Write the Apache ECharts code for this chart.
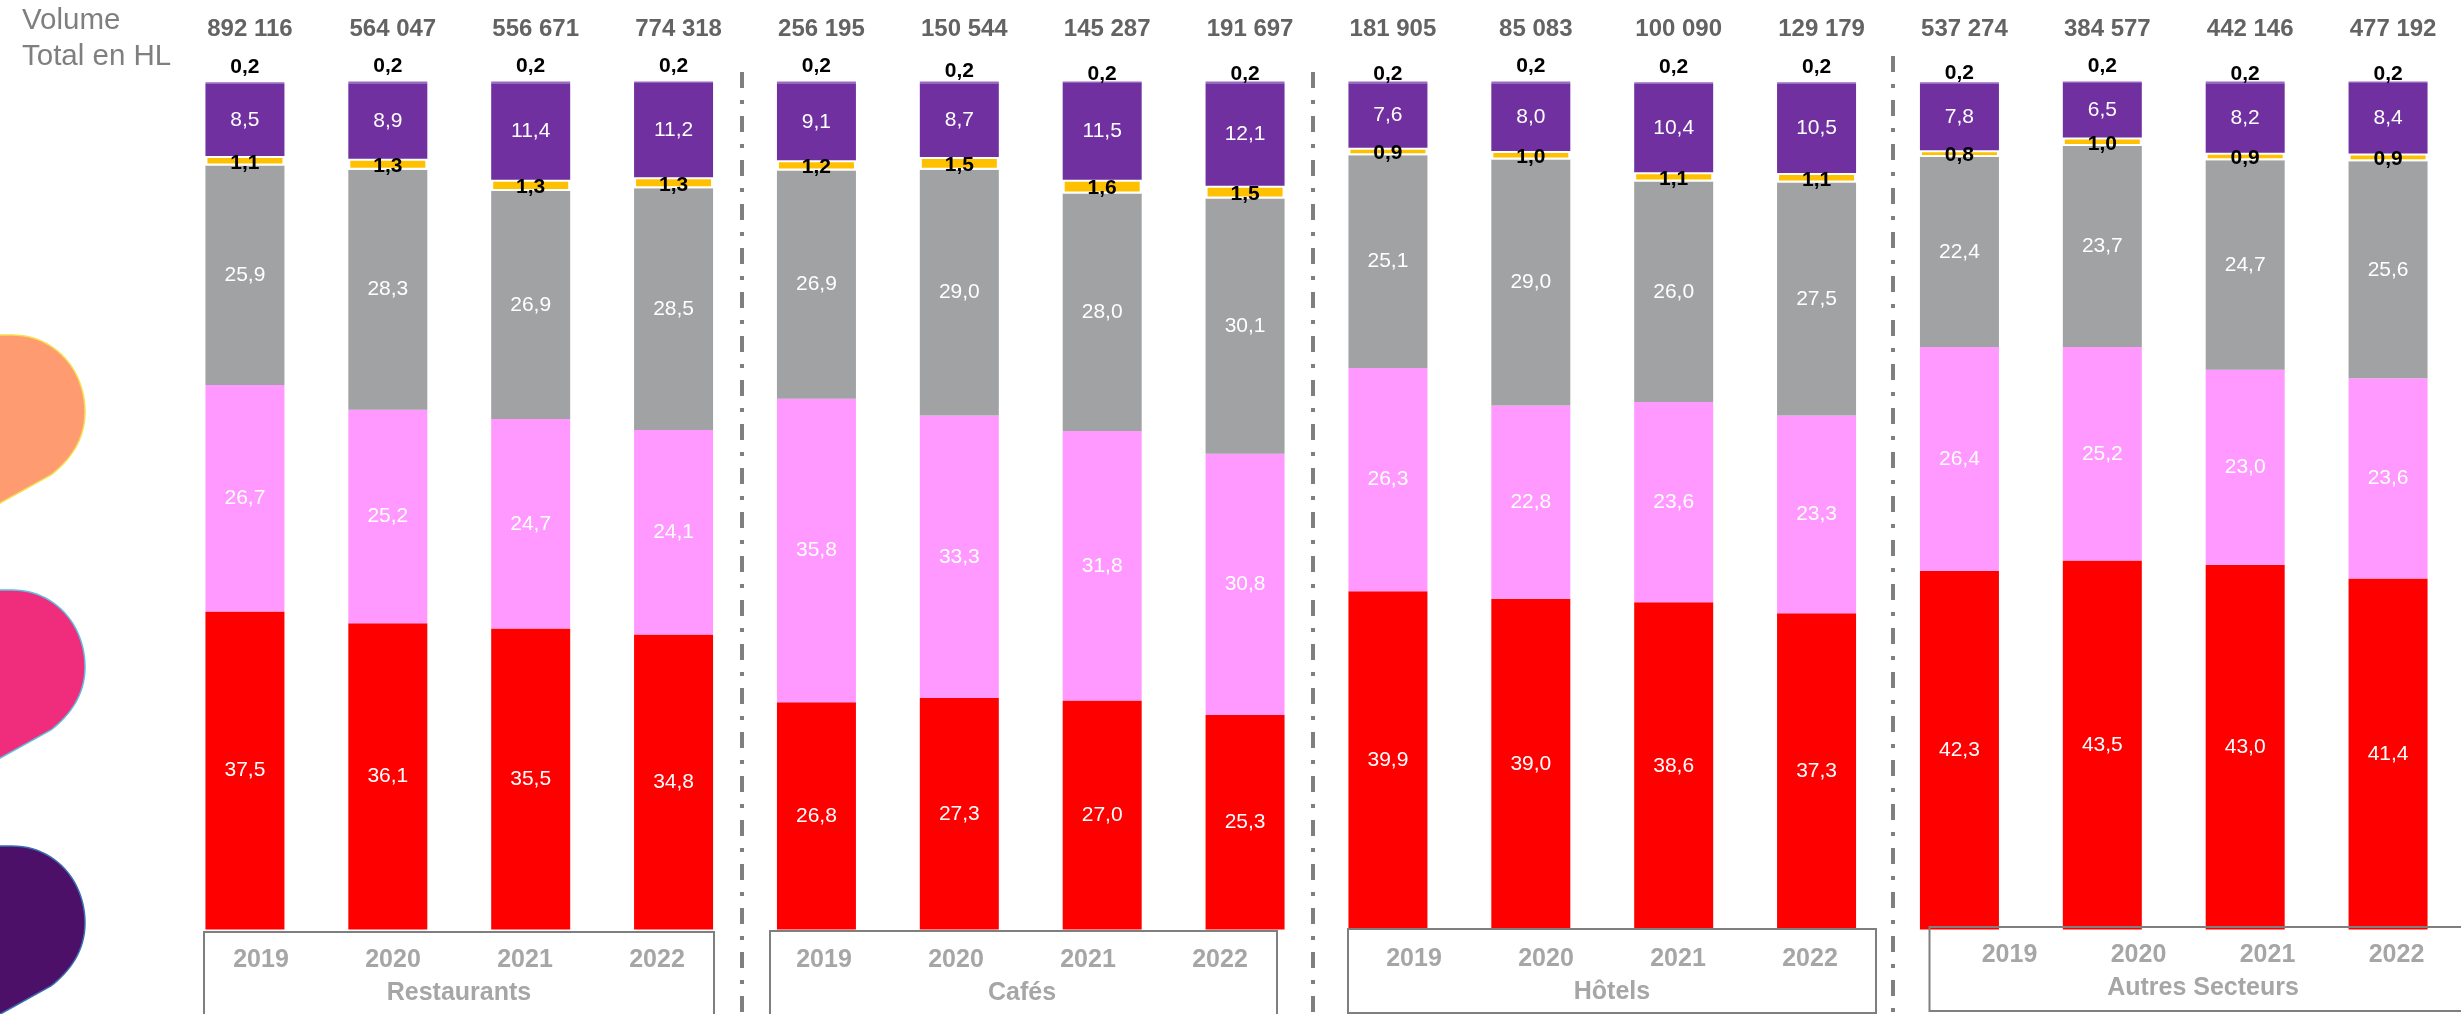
<!DOCTYPE html>
<html><head><meta charset="utf-8">
<style>html,body{margin:0;padding:0;background:#fff;overflow:hidden}#c{width:2461px;height:1014px}</style>
<script src="https://cdn.jsdelivr.net/npm/echarts@6/dist/echarts.min.js"></script></head>
<body><div id="c"></div><script>
const years=['2019','2020','2021','2022'];
const groups=['Restaurants','Cafés','Hôtels','Autres Secteurs'];
const categories=['R 2019','R 2020','R 2021','R 2022','C 2019','C 2020','C 2021','C 2022','H 2019','H 2020','H 2021','H 2022','A 2019','A 2020','A 2021','A 2022'];
const volumes=['892 116','564 047','556 671','774 318','256 195','150 544','145 287','191 697','181 905','85 083','100 090','129 179','537 274','384 577','442 146','477 192'];
const red=[37.5,36.1,35.5,34.8,26.8,27.3,27.0,25.3,39.9,39.0,38.6,37.3,42.3,43.5,43.0,41.4];
const pink=[26.7,25.2,24.7,24.1,35.8,33.3,31.8,30.8,26.3,22.8,23.6,23.3,26.4,25.2,23.0,23.6];
const gray=[25.9,28.3,26.9,28.5,26.9,29.0,28.0,30.1,25.1,29.0,26.0,27.5,22.4,23.7,24.7,25.6];
const yellow=[1.1,1.3,1.3,1.3,1.2,1.5,1.6,1.5,0.9,1.0,1.1,1.1,0.8,1.0,0.9,0.9];
const purple=[8.5,8.9,11.4,11.2,9.1,8.7,11.5,12.1,7.6,8.0,10.4,10.5,7.8,6.5,8.2,8.4];
const topSlice=[0.2,0.2,0.2,0.2,0.2,0.2,0.2,0.2,0.2,0.2,0.2,0.2,0.2,0.2,0.2,0.2];
const topLabelShift=[0,0,0,0,0,5,8,8,8,0,0,0,6,0,8,8];

const FONT='"Liberation Sans", Arial, sans-serif';
const fmt=p=>Number(p.value).toFixed(1).replace('.',',');
const innerLabel={show:true,position:'inside',formatter:fmt,color:'#fff',fontFamily:FONT,fontSize:21};
function bar(name,data,color,extra){
  return Object.assign({name,type:'bar',stack:'s',data,barWidth:79,
    itemStyle:{color},label:innerLabel,emphasis:{disabled:true},silent:true},extra||{});
}
const series=[
  bar('Rouge',red,'#FF0000'),
  bar('Rose',pink,'#FF99FF'),
  bar('Gris',gray,'#A1A2A4'),
  bar('Jaune',yellow,'#FFC000',{
    itemStyle:{color:'#FFC000',borderColor:'#fff',borderWidth:2},
    label:{show:true,position:'inside',offset:[0,2],formatter:fmt,color:'#000',fontFamily:FONT,fontSize:21,fontWeight:'bold'}}),
  bar('Violet',purple,'#7030A0'),
  bar('Autre',topSlice.map((v,i)=>({value:v,label:{offset:[0,topLabelShift[i]]}})),'#9A6CC0',{
    label:{show:true,position:'top',distance:5,formatter:fmt,color:'#000',fontFamily:FONT,fontSize:21,fontWeight:'bold'}})
];
const yearGrids=[{c:459},{c:1022},{c:1612},{c:2209}];
const yearTops=[948,948,947,943];
const grid=[{left:173.5,right:1.5,top:81.5,bottom:84.5}];
const xAxis=[
 {gridIndex:0,type:'category',data:categories,axisLine:{show:false},axisTick:{show:false},axisLabel:{show:false}},
 {gridIndex:0,type:'category',position:'top',data:volumes,axisLine:{show:false},axisTick:{show:false},
  axisLabel:{interval:0,margin:40,color:'#636363',fontFamily:FONT,fontSize:24,fontWeight:'bold',padding:[0,0,0,10]}}
];
const yAxis=[{gridIndex:0,type:'value',min:0,max:100,show:false}];
yearGrids.forEach((g,i)=>{
  grid.push({left:g.c-264,width:528,top:yearTops[i]-10,height:10});
  xAxis.push({gridIndex:i+1,type:'category',data:years,axisLine:{show:false},axisTick:{show:false},
    axisLabel:{interval:0,margin:0,color:'#A6A6A6',fontFamily:FONT,fontSize:25,fontWeight:'bold'},
    name:groups[i],nameLocation:'middle',nameGap:33,
    nameTextStyle:{color:'#A6A6A6',fontFamily:FONT,fontSize:25,fontWeight:'bold'}});
  yAxis.push({gridIndex:i+1,type:'value',show:false});
  series.push({type:'bar',xAxisIndex:i+2,yAxisIndex:i+1,data:[],silent:true});
});
const boxes=[[204,932,510,100],[770,931,507,100],[1348,929,528,84],[1929.5,927,560,84]];
const separators=[[742,72],[1313,72],[1893,56]];
function bez(p0,p1,p2,p3,n){const o=[];for(let k=1;k<=n;k++){const t=k/n,u=1-t;
  o.push([u*u*u*p0[0]+3*u*u*t*p1[0]+3*u*t*t*p2[0]+t*t*t*p3[0],u*u*u*p0[1]+3*u*u*t*p1[1]+3*u*t*t*p2[1]+t*t*t*p3[1]]);}return o;}
const blobOutline=[[-5,0],[12,0],...bez([12,0],[55,0],[85,35],[85,77],24),...bez([85,77],[85,105],[70,125],[51,140],16),[-5,171]];
const blobs=[[335,'#FF9B71','#F4E04D'],[590,'#F02D7D','#5CC0DC'],[846,'#4C1069','#3A6FB0']];
const graphic=[
 ...boxes.map(b=>({type:'rect',z:20,shape:{x:b[0],y:b[1],width:b[2],height:b[3]},style:{fill:'none',stroke:'#7F7F7F',lineWidth:2}})),
 ...separators.map(s=>({type:'line',z:1,shape:{x1:s[0],y1:s[1],x2:s[0],y2:1014},style:{stroke:'#7F7F7F',lineWidth:4,lineDash:[16,12,4,12]}})),
 ...blobs.map(b=>({type:'polygon',z:1,x:0,y:b[0],shape:{points:blobOutline},style:{fill:b[1],stroke:b[2],lineWidth:1.5}}))
];
const chart=echarts.init(document.getElementById('c'),null,{renderer:'canvas'});
chart.setOption({
  animation:false,backgroundColor:'#fff',
  title:{text:'Volume\nTotal en HL',left:17,top:-2,textStyle:{color:'#7F7F7F',fontFamily:FONT,fontSize:29.5,fontWeight:'normal',lineHeight:36}},
  grid,xAxis,yAxis,series,graphic
});
</script></body></html>
